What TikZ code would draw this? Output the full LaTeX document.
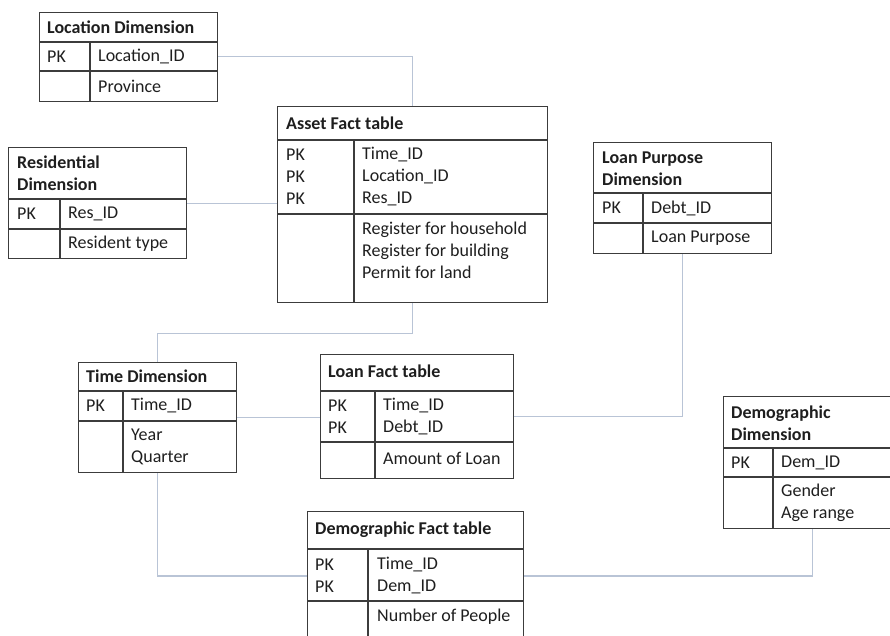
\documentclass[tikz,border=0pt]{standalone}
\usepackage{fontspec}
\setmainfont{Carlito}
\usepackage{tikz}
\usetikzlibrary{positioning, calc}
\definecolor{lineDark}{HTML}{3C3C3C}
\definecolor{textDark}{HTML}{1E1E1E}
\definecolor{linkBlue}{HTML}{B9C4D6}

\begin{document}
\begin{tikzpicture}[
    x=1pt, y=-1pt,
    tbl/.style={rectangle, draw=lineDark, line width=1.4pt, anchor=north west,
                inner sep=0pt},
    rule/.style={draw=lineDark, line width=1.4pt},
    link/.style={draw=linkBlue, line width=1.3pt},
    fld/.style={anchor=west, inner sep=0pt, align=left, text=textDark,
                font=\fontsize{18}{22}\selectfont},
    ttl/.style={fld, font=\fontsize{18}{22}\selectfont\bfseries},
  ]
    \useasboundingbox (0,0) rectangle (890,635);
    \clip (0,0) rectangle (890,635);

    % Location Dimension
    \node[tbl, minimum width=178, minimum height=89] (loc) at (39,12) {};
    \draw[rule] (39,42) -- (217,42) (39,71) -- (217,71) (90,42) -- (90,101);
    \node[ttl] (locTtl) at (47,27) {Location Dimension};
    \node[fld] (locPK) at (47,56.5) {PK};
    \node[fld] (locId) at (98,56.5) {Location\_ID};
    \node[fld] (locProv) at (98,86) {Province};

    % Residential Dimension
    \node[tbl, minimum width=178, minimum height=111] (res) at (8,147) {};
    \draw[rule] (8,199) -- (186,199) (8,229) -- (186,229) (60,199) -- (60,258);
    \node[ttl] (resTtl) at (17,173) {Residential\\Dimension};
    \node[fld] (resPK) at (17,214) {PK};
    \node[fld] (resId) at (68,214) {Res\_ID};
    \node[fld] (resType) at (68,243.5) {Resident type};

    % Asset Fact table
    \node[tbl, minimum width=270, minimum height=196] (asset) at (277,106) {};
    \draw[rule] (277,140) -- (547,140) (277,214) -- (547,214) (354,140) -- (354,302);
    \node[ttl] (assetTtl) at (286,123) {Asset Fact table};
    \node[fld] (assetPK) at (286,177) {PK\\PK\\PK};
    \node[fld] (assetKeys) at (362,177) {Time\_ID\\Location\_ID\\Res\_ID};
    \node[fld] (assetVals) at (362,250) {Register for household\\Register for building\\Permit for land};

    % Loan Purpose Dimension
    \node[tbl, minimum width=178, minimum height=111] (lpur) at (593,142) {};
    \draw[rule] (593,193) -- (771,193) (593,223) -- (771,223) (643,193) -- (643,253);
    \node[ttl] (lpurTtl) at (602,169) {Loan Purpose\\Dimension};
    \node[fld] (lpurPK) at (602,208) {PK};
    \node[fld] (lpurId) at (651,208) {Debt\_ID};
    \node[fld] (lpurName) at (651,238) {Loan Purpose};

    % Time Dimension
    \node[tbl, minimum width=158, minimum height=110] (time) at (78,362) {};
    \draw[rule] (78,391) -- (236,391) (78,421) -- (236,421) (123,391) -- (123,472);
    \node[ttl] (timeTtl) at (86,376.5) {Time Dimension};
    \node[fld] (timePK) at (86,406) {PK};
    \node[fld] (timeId) at (131,406) {Time\_ID};
    \node[fld] (timeVals) at (131,447) {Year\\Quarter};

    % Loan Fact table
    \node[tbl, minimum width=193, minimum height=124] (loanF) at (320,354) {};
    \draw[rule] (320,391) -- (513,391) (320,442) -- (513,442) (375,391) -- (375,478);
    \node[ttl] (loanTtl) at (328,371) {Loan Fact table};
    \node[fld] (loanPK) at (328,417) {PK\\PK};
    \node[fld] (loanKeys) at (383,417) {Time\_ID\\Debt\_ID};
    \node[fld] (loanAmt) at (383,458) {Amount of Loan};

    % Demographic Dimension
    \node[tbl, minimum width=178, minimum height=132] (demD) at (723,396) {};
    \draw[rule] (723,448) -- (901,448) (723,477) -- (901,477) (773,448) -- (773,528);
    \node[ttl] (demDTtl) at (731,423) {Demographic\\Dimension};
    \node[fld] (demDPK) at (731,462.5) {PK};
    \node[fld] (demDId) at (781,462.5) {Dem\_ID};
    \node[fld] (demDVals) at (781,503) {Gender\\Age range};

    % Demographic Fact table
    \node[tbl, minimum width=216, minimum height=134] (demF) at (307,511) {};
    \draw[rule] (307,549) -- (523,549) (307,601) -- (523,601) (368,549) -- (368,645);
    \node[ttl] (demFTtl) at (315,530) {Demographic Fact table};
    \node[fld] (demFPK) at (315,576) {PK\\PK};
    \node[fld] (demFKeys) at (377,576) {Time\_ID\\Dem\_ID};
    \node[fld] (demFNum) at (377,617) {Number of People};

    % links
    \draw[link] (loc.east |- locPK) -| (asset.north);
    \draw[link] (res.east) -- (res.east -| asset.west);
    \draw[link] (asset.south) -- ++(0,30) -| (time.north);
    \draw[link] (time.east) -- (time.east -| loanF.west);
    \draw[link] (loanF.east) -| (lpur.south);
    \draw[link] (time.south) |- (demF.west |- demFPK);
    \draw[link] (demF.east |- demFPK) -| (demD.south);
  \end{tikzpicture}
\end{document}
